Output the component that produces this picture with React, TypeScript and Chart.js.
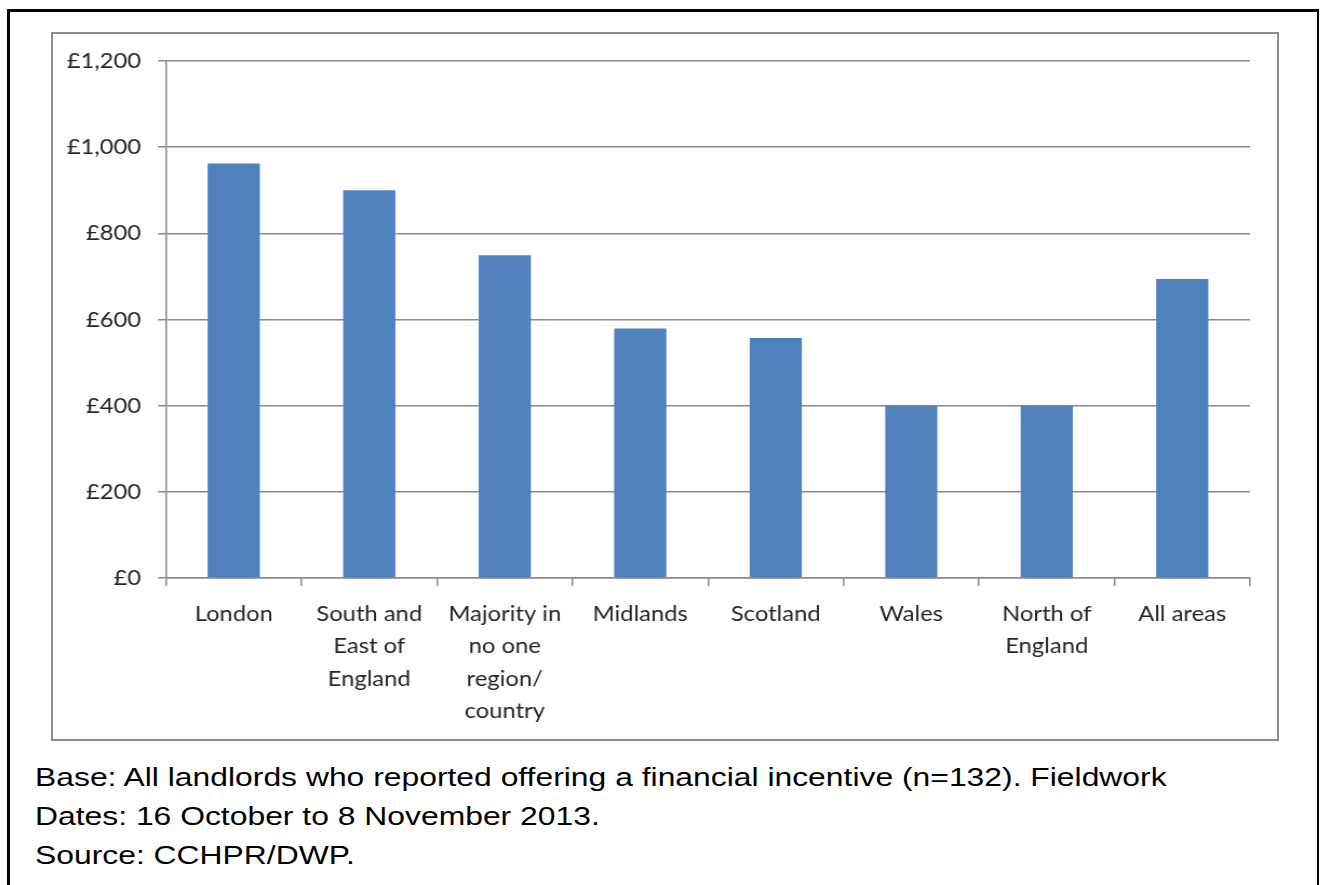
import React, { useEffect, useRef } from "react";
import { Chart, registerables } from "chart.js";

Chart.register(...registerables);

const categories: string[][] = [
  ["London"],
  ["South and", "East of", "England"],
  ["Majority in", "no one", "region/", "country"],
  ["Midlands"],
  ["Scotland"],
  ["Wales"],
  ["North of", "England"],
  ["All areas"],
];
const values: number[] = [962, 900, 749, 579, 557, 400, 400, 694];
const yMin = 0;
const yMax = 1200;
const yStep = 200;
const captionLines: string[] = [
  "Base: All landlords who reported offering a financial incentive (n=132). Fieldwork",
  "Dates: 16 October to 8 November 2013.",
  "Source: CCHPR/DWP.",
];

const BAR = "#4F81BD";
const GRID = "#8a8a8a";
const FAMILY = "Lato, 'Open Sans', sans-serif";

// the reference is horizontally stretched; draw narrower and stretch with CSS
const CSS_W = 1224;
const CSS_H = 705;
const CANVAS_W = 1133;
const F = CSS_W / CANVAS_W;

export default function App() {
  const ref = useRef<HTMLCanvasElement | null>(null);

  useEffect(() => {
    if (!ref.current) return;
    const chart = new Chart(ref.current, {
      type: "bar",
      data: {
        labels: categories,
        datasets: [
          {
            data: values,
            backgroundColor: BAR,
            borderWidth: 0,
            barPercentage: 0.385,
            categoryPercentage: 1,
          },
        ],
      },
      options: {
        animation: false,
        responsive: false,
        devicePixelRatio: 1,
        layout: { padding: { top: 27, right: 25, left: 0, bottom: 0 } },
        plugins: { legend: { display: false }, tooltip: { enabled: false } },
        scales: {
          x: {
            grid: {
              offset: true,
              drawOnChartArea: false,
              drawTicks: true,
              tickLength: 8,
              color: GRID,
              lineWidth: 1.5,
            },
            border: { color: GRID, width: 1.5 },
            ticks: {
              font: { family: FAMILY, size: 22, lineHeight: 1.465 },
              color: "#262626",
              padding: 12,
              maxRotation: 0,
              autoSkip: false,
            },
            afterFit: (s: any) => {
              s.height = 161;
            },
          },
          y: {
            min: yMin,
            max: yMax,
            grid: { color: GRID, lineWidth: 1.5, tickLength: 8 / F },
            border: { color: GRID, width: 1.5 },
            ticks: {
              stepSize: yStep,
              font: { family: FAMILY, size: 22, lineHeight: 1.0 },
              color: "#262626",
              padding: 15.7,
              callback: (v: any) => "£" + Number(v).toLocaleString("en-GB"),
            },
            afterFit: (s: any) => {
              s.width = 113 / F;
            },
          },
        },
      },
    });
    return () => chart.destroy();
  }, []);

  return (
    <div
      style={{
        position: "absolute",
        left: 0,
        top: 0,
        width: 1320,
        height: 885,
        background: "#fff",
        overflow: "hidden",
      }}
    >
      {/* outer black frame */}
      <div style={{ position: "absolute", left: 7, top: 9, width: 2.5, height: 876, background: "#000" }} />
      <div style={{ position: "absolute", left: 7, top: 9, width: 1311, height: 2.5, background: "#000" }} />
      <div style={{ position: "absolute", left: 1317, top: 9, width: 1.5, height: 876, background: "#000" }} />
      {/* gray chart frame */}
      <div
        style={{
          position: "absolute",
          left: 51,
          top: 32,
          width: 1228,
          height: 709,
          border: "2px solid #8c8c8c",
          boxSizing: "border-box",
        }}
      />
      <canvas
        ref={ref}
        width={CANVAS_W}
        height={CSS_H}
        style={{ position: "absolute", left: 53, top: 34, width: CSS_W, height: CSS_H }}
      />
      <div
        style={{
          position: "absolute",
          left: 35,
          top: 758,
          fontFamily: "'Liberation Sans', Arial, sans-serif",
          fontSize: 26,
          lineHeight: "39px",
          color: "#000",
          whiteSpace: "nowrap",
          transform: "scaleX(1.225)",
          transformOrigin: "0 0",
        }}
      >
        {captionLines.map((l, i) => (
          <div key={i}>{l}</div>
        ))}
      </div>
    </div>
  );
}
